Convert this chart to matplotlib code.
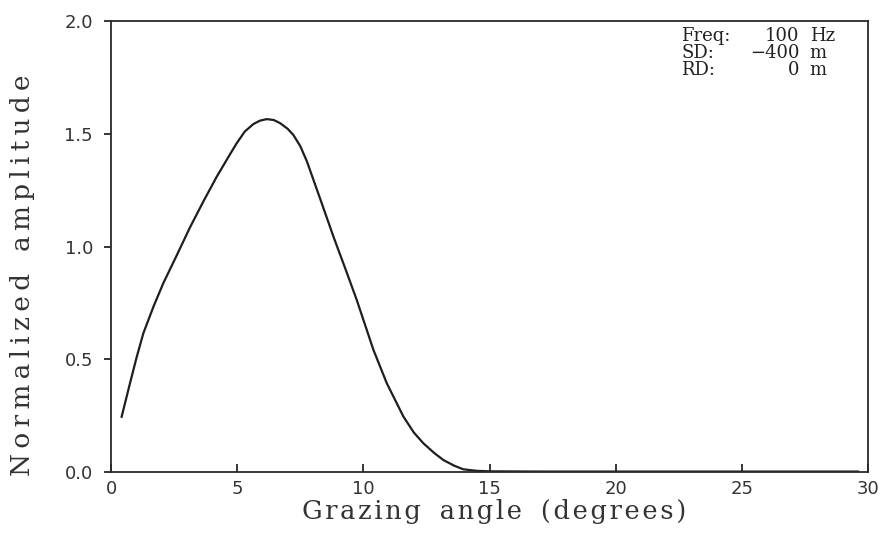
import matplotlib.pyplot as plt
import numpy as np

# grazing angle (deg) and normalized amplitude
angle = [0.42, 0.75, 1.02, 1.28, 1.68, 2.07, 2.6, 3.13, 3.66, 4.19, 4.72,
         4.98, 5.3, 5.64, 5.9, 6.17, 6.45, 6.7, 7.0, 7.23, 7.5, 7.76, 8.28,
         8.81, 9.34, 9.74, 10.4, 10.93, 11.59, 12.0, 12.38, 12.8, 13.17,
         13.6, 13.96, 14.5, 15, 17, 20, 25, 29.6]
amp = [0.245, 0.393, 0.511, 0.615, 0.733, 0.837, 0.96, 1.085, 1.2, 1.31,
       1.41, 1.458, 1.51, 1.543, 1.558, 1.565, 1.561, 1.547, 1.522, 1.494,
       1.445, 1.378, 1.214, 1.045, 0.885, 0.762, 0.541, 0.393, 0.245,
       0.175, 0.127, 0.085, 0.053, 0.028, 0.012, 0.005, 0.003, 0.002,
       0.002, 0.002, 0.002]

info_keys = ['Freq:', 'SD:', 'RD:']
info_vals = ['100', '\u2212400', '0']
info_units = ['Hz', 'm', 'm']

plt.rcParams['font.family'] = ['DejaVu Serif', 'DejaVu Sans']


def spaced(s, n=1):
    # widen the letter spacing like the old plotter font
    hs = '\u200a' * n
    words = [hs.join(w) for w in s.split(' ')]
    return ('  ' + hs).join(words)


fig = plt.figure(figsize=(8.84, 5.39), dpi=100)
ax = fig.add_axes([0.1256, 0.1243, 0.8564, 0.8367])

ax.plot(angle, amp, color='#1e1e1e', linewidth=1.6)

ax.set_xlim(0, 30)
ax.set_ylim(0, 2.0)
ax.set_xticks([0, 5, 10, 15, 20, 25, 30])
ax.set_yticks([0.0, 0.5, 1.0, 1.5, 2.0])
ax.set_yticklabels(['0.0', '0.5', '1.0', '1.5', '2.0'])
for lab in ax.get_xticklabels() + ax.get_yticklabels():
    lab.set_fontfamily('DejaVu Sans')
    lab.set_color('#333333')
ax.tick_params(axis='x', direction='in', length=6, labelsize=13, width=1.1, pad=6)
ax.tick_params(axis='y', direction='out', length=5, labelsize=13, width=1.1, pad=8)
for s in ax.spines.values():
    s.set_linewidth(1.3)
    s.set_color('#2a2a2a')

ax.set_xlabel(spaced('Grazing angle (degrees)'), fontsize=18.5, color='#333333')
ax.xaxis.set_label_coords(0.506, -0.060)
ax.xaxis.label.set_va('top')
ax.set_ylabel(spaced('Normalized amplitude', 2), fontsize=19, color='#333333')
ax.yaxis.set_label_coords(-0.100, 0.437)

# info box, top right
y0 = 0.956
dy = 0.0377
for i in range(3):
    yy = y0 - i * dy
    ax.text(0.753, yy, info_keys[i], transform=ax.transAxes, fontsize=13,
            va='baseline', ha='left', color='#222222')
    ax.text(0.909, yy, info_vals[i], transform=ax.transAxes, fontsize=13,
            va='baseline', ha='right', color='#222222')
    ax.text(0.923, yy, info_units[i], transform=ax.transAxes, fontsize=13,
            va='baseline', ha='left', color='#222222')

fig.savefig('out.png', dpi=100)
